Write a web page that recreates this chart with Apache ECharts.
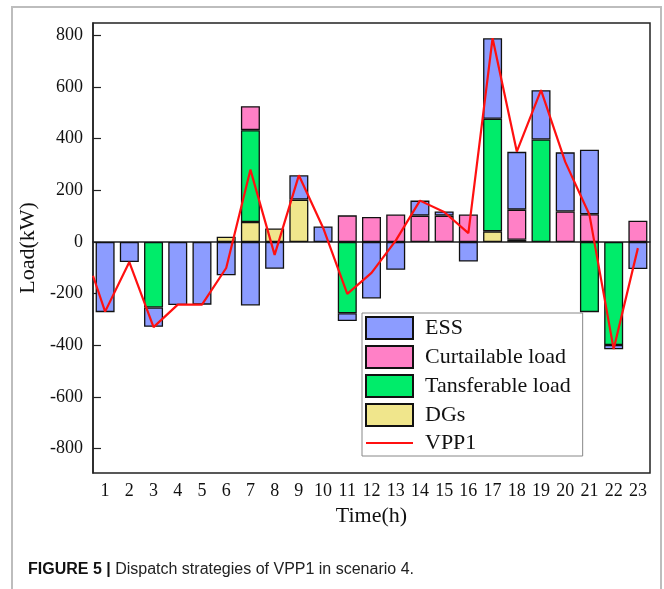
<!DOCTYPE html>
<html>
<head>
<meta charset="utf-8">
<script src="https://cdn.jsdelivr.net/npm/echarts@6/dist/echarts.min.js"></script>
<style>
  html, body { margin: 0; padding: 0; background: #fff; }
  #chart { width: 664px; height: 589px; }
</style>
</head>
<body>
<div id="chart"></div>
<script>
// hours on the x axis
const hours = ['1','2','3','4','5','6','7','8','9','10','11','12','13','14','15','16','17','18','19','20','21','22','23']

// stacked components (kW), '-' = nothing drawn
const ess = [-272, -78, -75, -244, -243, -129, -246, -104, 94, 60, -30, -219, -108, 58, 16, -76, 312, 224, 191, 229, 250, -17, -105]
const curtailable = ['-', '-', '-', '-', '-', '-', 93, '-', '-', '-', 103, 97, 106, 102, 102, 106, '-', 117, '-', 118, 107, '-', 82]
const transferable = ['-', '-', -254, '-', '-', '-', 356, '-', '-', '-', -276, '-', '-', '-', '-', '-', 436, '-', 397, '-', -272, -399, '-']
const dgs = ['-', '-', '-', '-', '-', 20, 77, 52, 164, '-', '-', '-', '-', '-', '-', '-', 41, 8, '-', '-', '-', '-', '-']

// VPP1 net curve (starts at the left edge of the plot)
const vppHours = [0.5, 1, 2, 3, 4, 5, 6, 7, 8, 9, 10, 11, 12, 13, 14, 15, 16, 17, 18, 19, 20, 21, 22, 23]
const vpp = [-131, -270, -78, -330, -243, -243, -101, 280, -50, 258, 55, -201, -120, 5, 160, 116, 34, 789, 350, 588, 310, 105, -415, -24]

// y tick labels
const yTicks = [-800, -600, -400, -200, 0, 200, 400, 600, 800]

const serif = '"Liberation Serif", "DejaVu Serif", serif'
const chart = echarts.init(document.getElementById('chart'))

const barStyle = (color) => ({ color: color, borderColor: '#111', borderWidth: 1.3 })

chart.setOption({
  animation: false,
  backgroundColor: '#fff',
  grid: {
    left: 93, right: 14, top: 23, bottom: 116,
    show: true, borderColor: '#222', borderWidth: 1.5
  },
  legend: {
    orient: 'vertical',
    left: 362, top: 313,
    padding: [3, 12, 2, 3],
    itemWidth: 47, itemHeight: 22, itemGap: 5,
    borderColor: '#888', borderWidth: 1,
    backgroundColor: '#fff',
    textStyle: { fontFamily: serif, fontSize: 22, color: '#111', padding: [0, 0, 0, 7] },
    data: [
      { name: 'ESS', icon: 'rect' },
      { name: 'Curtailable load', icon: 'rect' },
      { name: 'Tansferable load', icon: 'rect' },
      { name: 'DGs', icon: 'rect' },
      { name: 'VPP1', itemStyle: { opacity: 0 } }
    ]
  },
  xAxis: [{
    type: 'category',
    data: hours,
    boundaryGap: true,
    name: 'Time(h)',
    nameLocation: 'middle',
    nameGap: 31,
    nameTextStyle: { fontFamily: serif, fontSize: 22, color: '#111' },
    axisLine: { lineStyle: { color: '#222', width: 1.5 } },
    axisTick: { inside: true, alignWithLabel: true, length: 8, lineStyle: { color: '#222', width: 1.2 } },
    axisLabel: { fontFamily: serif, fontSize: 18, color: '#111', margin: 9, interval: 0 },
    splitLine: { show: false }
  }, {
    type: 'value',
    min: 0.5, max: 23.5,
    show: false,
    position: 'bottom'
  }],
  yAxis: {
    type: 'value',
    min: -895, max: 848,
    name: 'Load(kW)',
    nameLocation: 'middle',
    nameGap: 46,
    nameTextStyle: { fontFamily: serif, fontSize: 22, color: '#111' },
    axisLine: { show: true, lineStyle: { color: '#222', width: 1.5 } },
    axisTick: { show: true, inside: true, length: 8, customValues: yTicks, lineStyle: { color: '#222', width: 1.2 } },
    axisLabel: { fontFamily: serif, fontSize: 18, color: '#111', margin: 10, customValues: yTicks },
    splitLine: { show: false }
  },
  series: [
    { name: 'DGs', type: 'bar', stack: 'vpp', barWidth: 19, data: dgs, itemStyle: barStyle('#f0e68c') },
    { name: 'Tansferable load', type: 'bar', stack: 'vpp', barWidth: 19, data: transferable, itemStyle: barStyle('#00ec6a') },
    { name: 'Curtailable load', type: 'bar', stack: 'vpp', barWidth: 19, data: curtailable, itemStyle: barStyle('#ff80c6') },
    { name: 'ESS', type: 'bar', stack: 'vpp', barWidth: 19, data: ess, itemStyle: barStyle('#8c9cff') },
    {
      name: 'VPP1', type: 'line', xAxisIndex: 1,
      data: vppHours.map((h, i) => [h, vpp[i]]),
      symbol: 'none', clip: true,
      lineStyle: { color: '#ff1010', width: 2.2 },
      itemStyle: { color: '#ff1010' },
      z: 5
    }
  ],
  graphic: [
    {
      type: 'polyline', silent: true,
      shape: { points: [[12, 589], [12, 7], [661, 7], [661, 589]] },
      style: { fill: null, stroke: '#bdbdbd', lineWidth: 2 }
    },
    {
      type: 'text', left: 28, top: 562,
      style: {
        text: '{b|FIGURE 5 |} Dispatch strategies of VPP1 in scenario 4.',
        fontFamily: '"Liberation Sans", Arial, sans-serif',
        fontSize: 16, fill: '#222',
        rich: { b: { fontWeight: 'bold', fontFamily: '"Liberation Sans", Arial, sans-serif', fontSize: 16, fill: '#111' } }
      }
    }
  ]
})
</script>
</body>
</html>
